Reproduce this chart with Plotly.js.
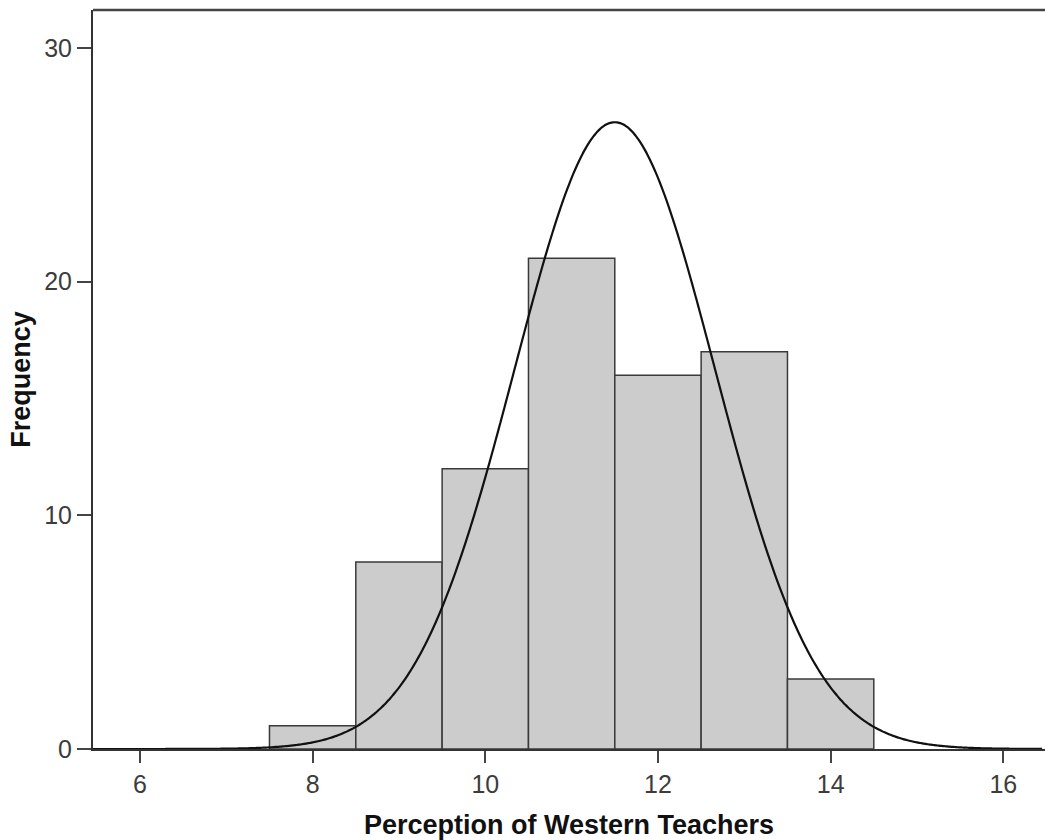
<!DOCTYPE html>
<html>
<head>
<meta charset="utf-8">
<script src="https://cdn.plot.ly/plotly-3.0.1.min.js"></script>
<style>
  html, body { margin: 0; padding: 0; background: #ffffff; }
  #chart { width: 1045px; height: 840px; }
</style>
</head>
<body>
<div id="chart"></div>
<script>
// Histogram bins (centers) and frequencies
const binCenters = [8, 9, 10, 11, 12, 13, 14];
const frequencies = [1, 8, 12, 21, 16, 17, 3];

// Fitted normal curve parameters
const curveMean = 11.5;
const curveSD = 1.16;
const curveN = 78;
const binWidth = 1;

const xTickVals = [6, 8, 10, 12, 14, 16];
const yTickVals = [0, 10, 20, 30];

const xTitle = "Perception of Western Teachers";
const yTitle = "Frequency";

// build normal curve from its parameters
const curveX = [];
const curveY = [];
for (let i = 0; i <= 440; i++) {
  const x = 5.45 + i * 0.025;
  const z = (x - curveMean) / curveSD;
  curveX.push(x);
  curveY.push(curveN * binWidth * Math.exp(-0.5 * z * z) / (curveSD * Math.sqrt(2 * Math.PI)));
}

const bars = {
  type: 'bar',
  x: binCenters,
  y: frequencies,
  width: binWidth,
  marker: { color: '#cccccc', line: { color: '#3a3a3a', width: 1.5 } },
  hoverinfo: 'x+y',
  showlegend: false
};

const curve = {
  type: 'scatter',
  mode: 'lines',
  x: curveX,
  y: curveY,
  line: { color: '#111111', width: 2.2, shape: 'spline' },
  hoverinfo: 'skip',
  showlegend: false
};

const fontFam = '"Liberation Sans", Arial, sans-serif';

const layout = {
  width: 1045,
  height: 840,
  margin: { l: 93, r: 0, t: 10, b: 91 },
  paper_bgcolor: '#ffffff',
  plot_bgcolor: '#ffffff',
  showlegend: false,
  bargap: 0,
  xaxis: {
    range: [5.456, 16.483],
    tickvals: xTickVals,
    ticktext: xTickVals.map(String),
    ticks: 'outside',
    ticklen: 12,
    tickwidth: 2,
    tickcolor: '#444444',
    showgrid: false,
    zeroline: false,
    showline: true,
    linecolor: '#333333',
    linewidth: 2,
    tickfont: { family: fontFam, size: 25, color: '#3c3c3c' },
    title: { text: xTitle, font: { family: fontFam, size: 27, color: '#111111', weight: 'bold' }, standoff: 20 }
  },
  yaxis: {
    range: [0, 31.63],
    tickvals: yTickVals,
    ticktext: yTickVals.map(String),
    ticks: 'outside',
    ticklen: 14,
    tickwidth: 2,
    tickcolor: '#444444',
    showgrid: false,
    zeroline: false,
    showline: true,
    linecolor: '#333333',
    linewidth: 2,
    tickfont: { family: fontFam, size: 25, color: '#3c3c3c' },
    title: { text: yTitle, font: { family: fontFam, size: 27, color: '#111111', weight: 'bold' }, standoff: 6 }
  },
  shapes: [
    { type: 'line', xref: 'paper', yref: 'paper', x0: 0, x1: 1, y0: 1, y1: 1,
      line: { color: '#444444', width: 2.5 } }
  ]
};

Plotly.newPlot('chart', [bars, curve], layout, { displayModeBar: false, staticPlot: true });
</script>
</body>
</html>
